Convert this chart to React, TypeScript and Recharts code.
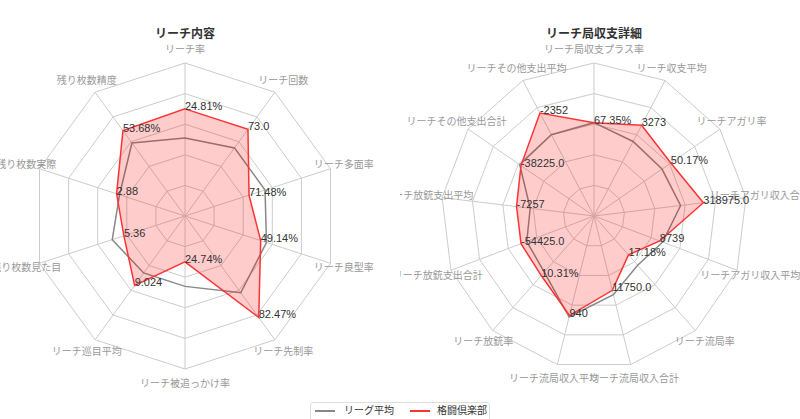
import { RadarChart, Radar, PolarGrid, PolarAngleAxis, PolarRadiusAxis } from "recharts";

// left: リーチ内容
const leftAxes = [
  "リーチ率",
  "リーチ回数",
  "リーチ多面率",
  "リーチ良型率",
  "リーチ先制率",
  "リーチ被追っかけ率",
  "リーチ巡目平均",
  "残り枚数見た目",
  "残り枚数実際",
  "残り枚数精度",
];
const leftLeague = [0.51, 0.55, 0.55, 0.56, 0.62, 0.46, 0.46, 0.5, 0.45, 0.59];
const leftClub = [0.7, 0.7, 0.44, 0.52, 0.82, 0.3, 0.56, 0.42, 0.47, 0.69];
const leftClubLabels = ["24.81%", "73.0", "71.48%", "49.14%", "82.47%", "24.74%", "9.024", "5.36", "2.88", "53.68%"];

// right: リーチ局収支詳細
const rightAxes = [
  "リーチ局収支プラス率",
  "リーチ収支平均",
  "リーチアガリ率",
  "リーチアガリ収入合計",
  "リーチアガリ収入平均",
  "リーチ流局率",
  "リーチ流局収入合計",
  "リーチ流局収入平均",
  "リーチ放銃率",
  "リーチ放銃支出合計",
  "リーチ放銃支出平均",
  "リーチその他支出合計",
  "リーチその他支出平均",
];
const rightLeague = [0.61, 0.55, 0.54, 0.57, 0.48, 0.43, 0.53, 0.68, 0.49, 0.47, 0.42, 0.59, 0.6];
const rightClub = [0.61, 0.67, 0.61, 0.72, 0.46, 0.34, 0.5, 0.67, 0.52, 0.51, 0.51, 0.58, 0.76];
const rightClubLabels = [
  "67.35%", "3273", "50.17%", "318975.0", "8739", "17.18%", "11750.0",
  "940", "10.31%", "-54425.0", "-7257", "-38225.0", "-2352",
];

const FONT = "'Liberation Sans', 'Noto Sans CJK JP', sans-serif";
const R = 153;
const CY = 216;
const rings = [R * 0.2, R * 0.4, R * 0.6, R * 0.8, R];

const build = (axes: string[], league: number[], club: number[], labels: string[]) =>
  axes.map((a, i) => ({ axis: a, league: league[i], club: club[i], label: labels[i] }));

function RadarPanel({ data, cx, left, title }: { data: any[]; cx: number; left: number; title: string }) {
  const tick = (p: any) => {
    const dx = p.x - cx;
    const dy = p.y - CY;
    const d = Math.hypot(dx, dy) || 1;
    const tx = cx + (dx / d) * (R + 14);
    const ty = CY + (dy / d) * (R + 14);
    return (
      <text x={tx} y={ty} textAnchor="middle" dominantBaseline="central" fill="#999" fontSize={10} fontFamily={FONT}>
        {p.payload.value}
      </text>
    );
  };
  const valueLabel = (p: any) => (
    <text key={"lbl" + p.index} x={p.cx} y={p.cy + 1} fill="#333" fontSize={11} fontFamily={FONT}>
      {data[p.index].label}
    </text>
  );
  return (
    <div style={{ position: "absolute", left, top: 0, width: 400, height: 419 }}>
      <div
        style={{
          position: "absolute",
          left: cx - 100,
          top: 26,
          width: 200,
          textAlign: "center",
          fontSize: 12,
          fontWeight: "bold",
          color: "#333",
          fontFamily: FONT,
          lineHeight: "16px",
        }}
      >
        {title}
      </div>
      <RadarChart width={400} height={419} data={data} cx={cx} cy={CY} outerRadius={R} startAngle={90} endAngle={-270}>
        <PolarGrid gridType="polygon" polarRadius={rings} stroke="#cccccc" />
        <PolarAngleAxis dataKey="axis" tick={tick} axisLine={false} tickLine={false} />
        <PolarRadiusAxis domain={[0, 1]} tick={false} axisLine={false} />
        <Radar
          name="リーグ平均"
          dataKey="league"
          stroke="#888888"
          strokeWidth={1.5}
          fill="none"
          fillOpacity={0}
          dot={false}
          isAnimationActive={false}
        />
        <Radar
          name="格闘倶楽部"
          dataKey="club"
          stroke="#ff3333"
          strokeWidth={1.5}
          fill="#ff0000"
          fillOpacity={0.2}
          dot={valueLabel}
          isAnimationActive={false}
        />
      </RadarChart>
    </div>
  );
}

export default function App() {
  const leftData = build(leftAxes, leftLeague, leftClub, leftClubLabels);
  const rightData = build(rightAxes, rightLeague, rightClub, rightClubLabels);
  const item = { position: "absolute" as const, top: 0, lineHeight: "16px", whiteSpace: "nowrap" as const };
  return (
    <div style={{ position: "absolute", left: 0, top: 0, width: 800, height: 419, background: "#fff", overflow: "hidden" }}>
      <RadarPanel data={leftData} cx={185} left={0} title="リーチ内容" />
      <RadarPanel data={rightData} cx={194} left={400} title="リーチ局収支詳細" />
      <div
        style={{
          position: "absolute",
          left: 310,
          top: 402,
          width: 180,
          height: 24,
          border: "1px solid #dddddd",
          borderRadius: 3,
          fontFamily: FONT,
          fontSize: 10,
          color: "#333",
          boxSizing: "border-box",
        }}
      >
        <div style={{ position: "absolute", left: 4, top: 7, width: 20, height: 1.5, background: "#888888" }} />
        <div style={{ ...item, left: 33 }}>リーグ平均</div>
        <div style={{ position: "absolute", left: 99, top: 7, width: 20, height: 1.5, background: "#ff3333" }} />
        <div style={{ ...item, left: 126 }}>格闘倶楽部</div>
      </div>
    </div>
  );
}
